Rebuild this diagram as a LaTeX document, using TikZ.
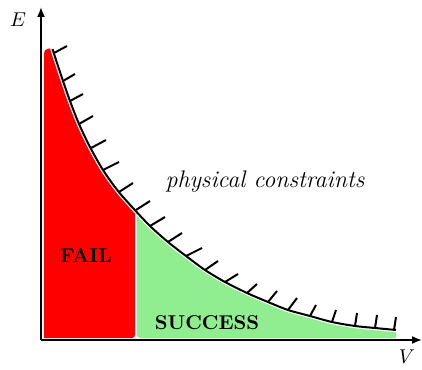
\documentclass[tikz,border=0pt]{standalone}
\usetikzlibrary{arrows.meta}
\definecolor{okgreen}{RGB}{144,238,144}
\tikzset{
  axisline/.style={line width=0.8pt, -{Latex[length=5pt,width=4pt]}},
  tickmark/.style={line width=1pt, line cap=butt},
  regionlabel/.style={font=\bfseries},
  curvesmooth/.style={smooth, tension=0.5},
}
\begin{document}
\begin{tikzpicture}[x=0.5pt, y=-0.5pt]
\useasboundingbox (0,0) rectangle (422,369);
% regions
\begin{scope}
  \clip[rounded corners=1.5pt] (0,0) rectangle (135,338);
  \fill[red] (44,338) -- (44,55) .. controls (44,50) and (46,48.5) .. (49,48.5) .. controls (51,48.5) and (52,49) .. (52.5,49) -- plot[curvesmooth] coordinates {(52.5,49) (57,63) (63,81) (70,101) (79,124) (90,147) (103,170) (118,191) (133,208) (150,226) (168,242) (186,256) (205,270) (225,282) (247,293) (268,302) (288,310) (310,316) (332,322) (355,326) (375,328) (396,330)} -- (396,338) -- cycle;
\end{scope}
\begin{scope}
  \clip[rounded corners=1.5pt] (137,0) rectangle (422,338);
  \fill[okgreen] (44,338) -- (44,49) -- plot[curvesmooth] coordinates {(52.5,49) (57,63) (63,81) (70,101) (79,124) (90,147) (103,170) (118,191) (133,208) (150,226) (168,242) (186,256) (205,270) (225,282) (247,293) (268,302) (288,310) (310,316) (332,322) (355,326) (375,328) (396,330)} -- (396,338) -- cycle;
\end{scope}
% constraint curve with white halo
\draw[white, line width=2.2pt, line cap=round] plot[curvesmooth] coordinates {(52.5,49) (57,63) (63,81) (70,101) (79,124) (90,147) (103,170) (118,191) (133,208) (150,226) (168,242) (186,256) (205,270) (225,282) (247,293) (268,302) (288,310) (310,316) (332,322) (355,326) (375,328) (396,330)};
\draw[black, line width=1pt] plot[curvesmooth] coordinates {(52.5,49) (57,63) (63,81) (70,101) (79,124) (90,147) (103,170) (118,191) (133,208) (150,226) (168,242) (186,256) (205,270) (225,282) (247,293) (268,302) (288,310) (310,316) (332,322) (355,326) (375,328) (396,330)};
% hatch ticks
\foreach \bx/\by/\tx/\ty in {
  54/53/67/46, 63/81/75/74, 70/101/83/94, 79/124/93/116, 91/148/106/140,
  103/170/119/162, 119/192/133/183, 136/210/150/201, 150/226/165/217,
  168/242/182/233, 186/256/202/248, 205/270/218/261, 225/282/238/274,
  247/293/257/284, 268/302/277/291, 288/310/297/298, 310/316/316/305,
  332/322/336/310, 355/326/357/313, 375/328/377/315, 394/330/396/317} {
  \draw[tickmark] (\bx,\by) -- (\tx,\ty);
}
% axes
\coordinate (O) at (41,340);
\coordinate (Etop) at (41,7);
\coordinate (Vend) at (422,340);
\draw[axisline] (O) -- (Etop);
\draw[axisline] (O) -- (Vend);
\node (Elabel) at (18,20) {$E$};
\node (Vlabel) at (407,357) {$V$};
% labels
\node[font=\large\itshape] (constr) at (265,182) {physical constraints};
\node[regionlabel] (fail) at (86,256) {FAIL};
\node[regionlabel] (success) at (207,323) {SUCCESS};
\end{tikzpicture}
\end{document}
